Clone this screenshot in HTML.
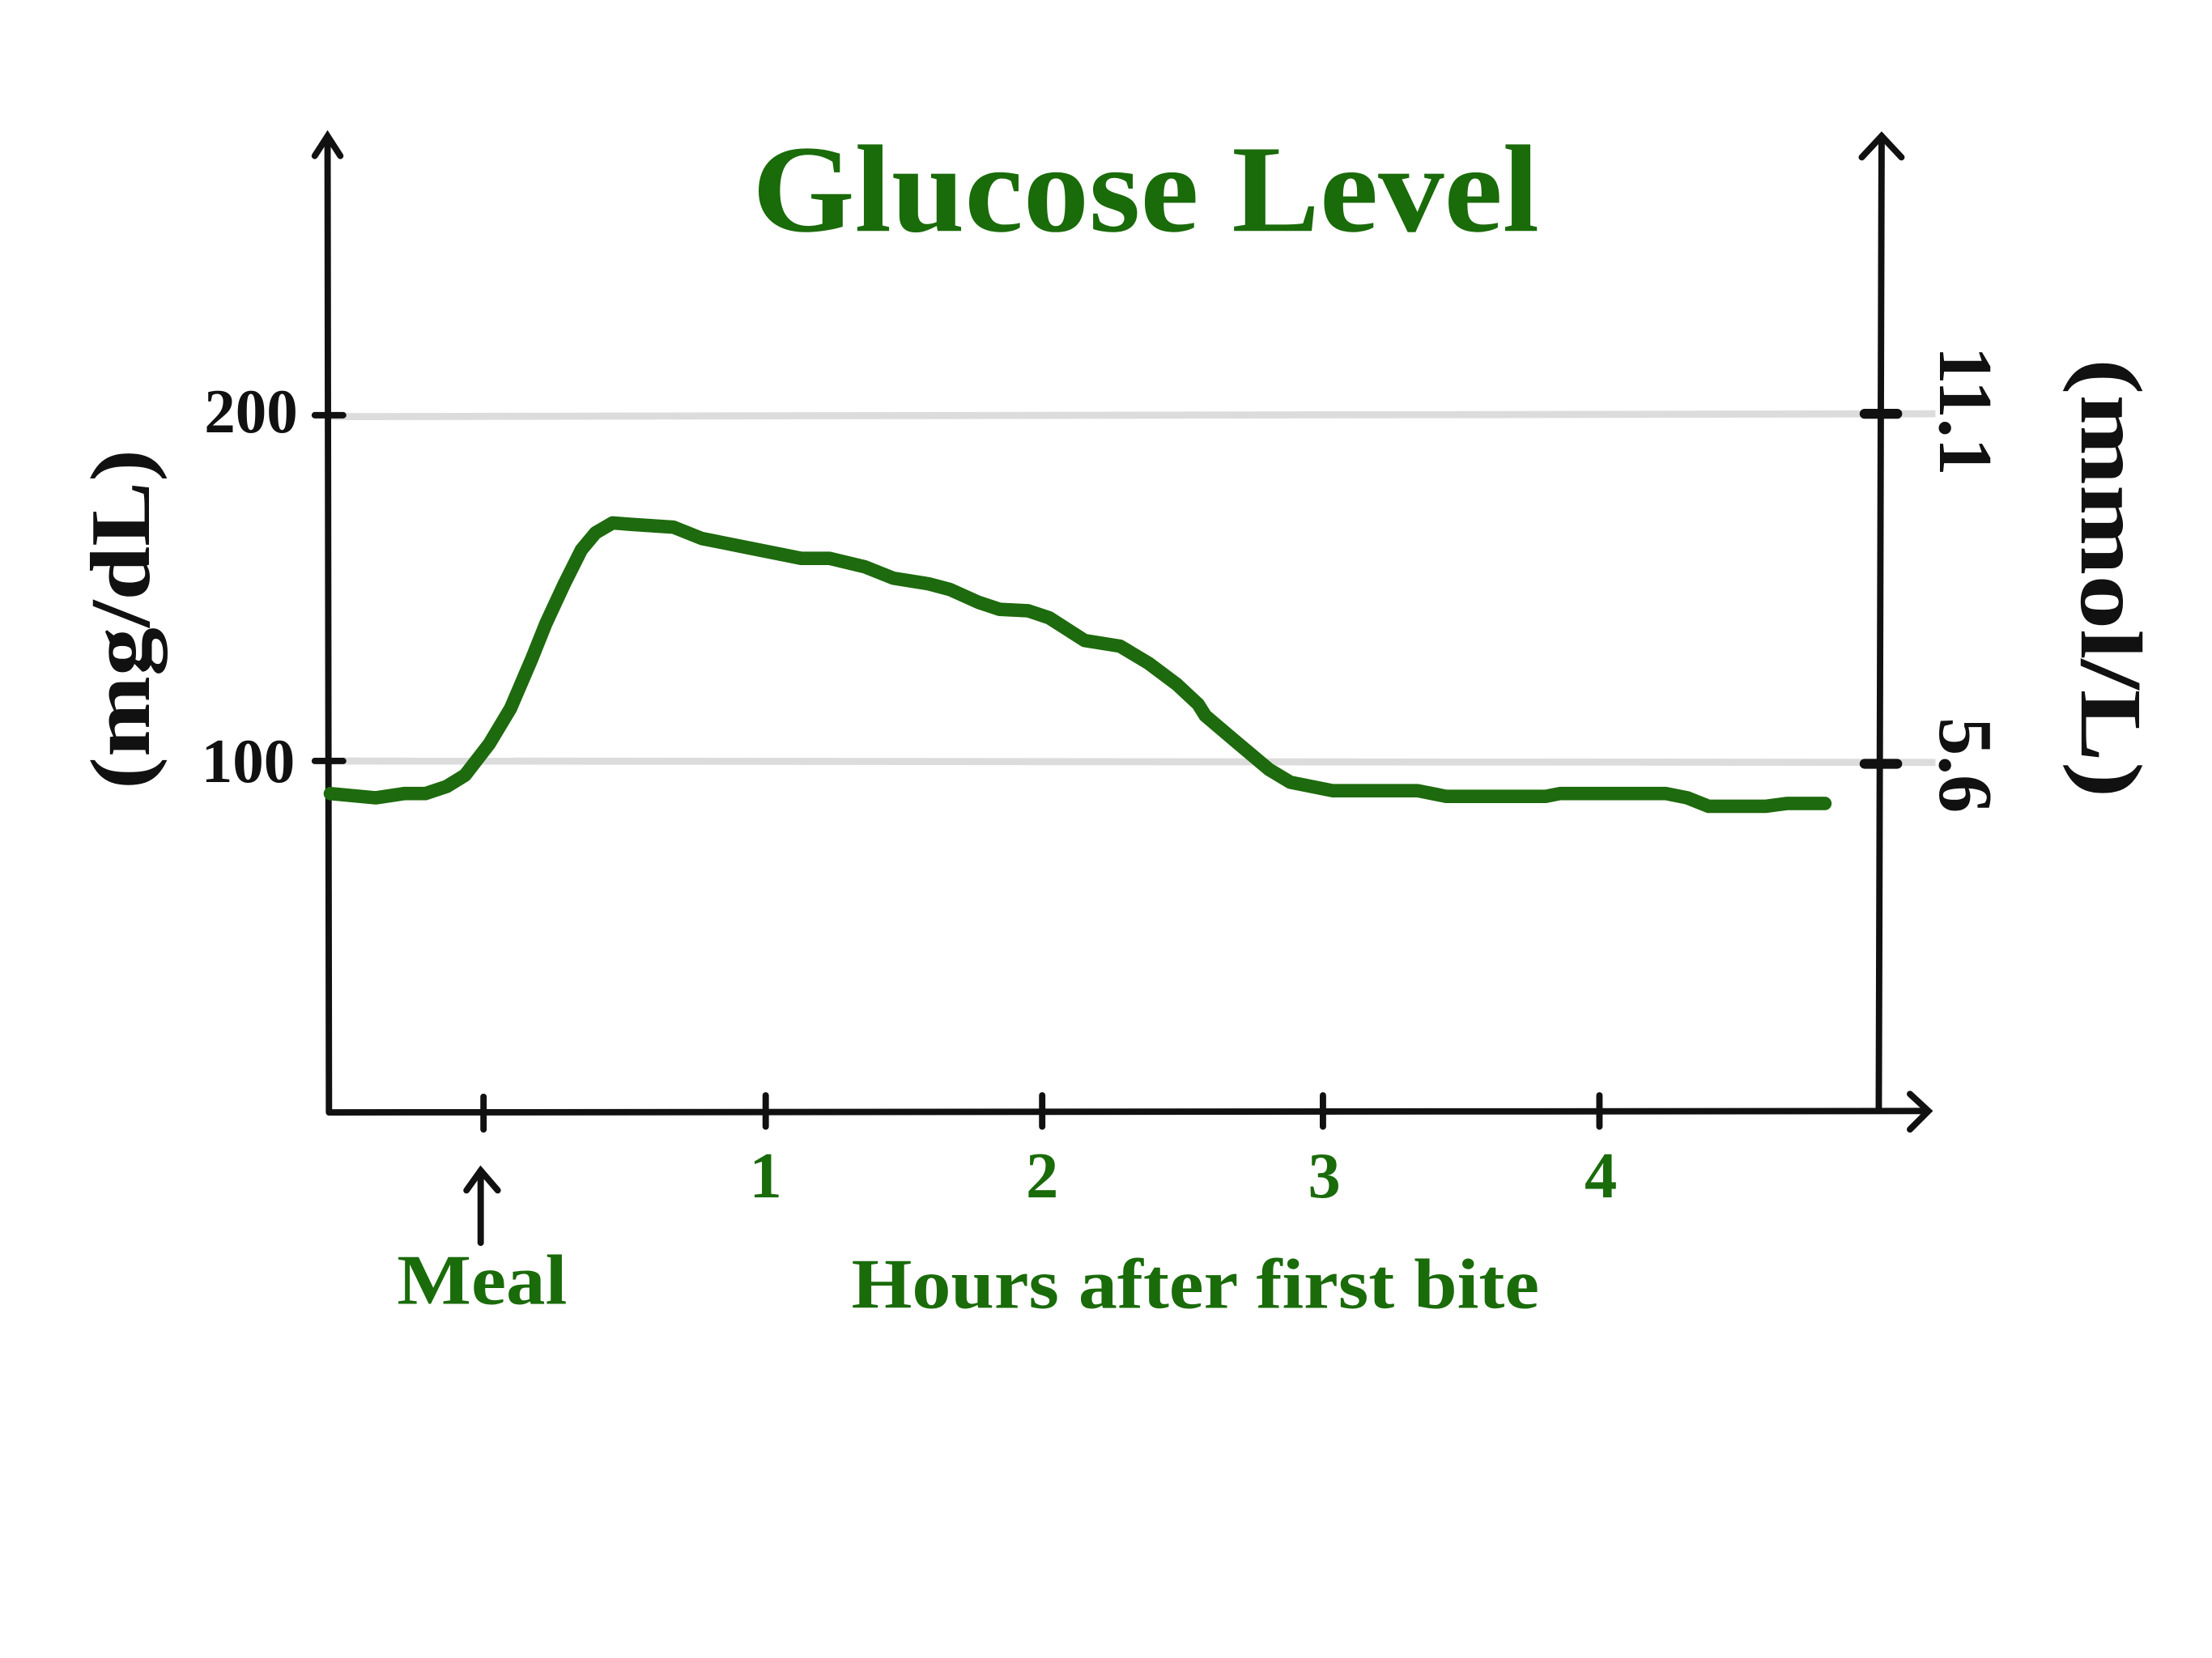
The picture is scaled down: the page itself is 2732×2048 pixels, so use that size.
<!DOCTYPE html>
<html><head><meta charset="utf-8"><style>
html,body{margin:0;padding:0;background:#fff;}
svg{display:block;}
text{font-family:"Liberation Serif",serif;font-weight:bold;}
</style></head><body>
<svg width="2732" height="2048" viewBox="0 0 1560 1170" preserveAspectRatio="none" xmlns="http://www.w3.org/2000/svg">
<rect width="1560" height="1170" fill="#fff"/>
<line x1="231" y1="294" x2="1365" y2="292" stroke="#dcdcdc" stroke-width="5"/>
<line x1="231" y1="537" x2="1365" y2="538" stroke="#dcdcdc" stroke-width="5"/>
<g stroke="#111" stroke-width="4.5" fill="none" stroke-linecap="round">
<path d="M231 97 L232 785"/><path d="M222 110 L231 96 L240 110"/>
<path d="M1327 96 L1325 782"/><path d="M1313 111 L1327 96 L1341 111"/>
<path d="M233 785 L1358 784"/><path d="M1347 772 L1360 784 L1347 797"/>
<path d="M341 774 L341 797"/><path d="M540 773 L540 795"/><path d="M735 773 L735 795"/><path d="M933 773 L933 795"/><path d="M1128 773 L1128 795"/>
<path d="M222 293 L242 293"/><path d="M222 537 L242 537"/>
<path d="M1315 292 L1338 292" stroke-width="7"/><path d="M1315 539 L1338 539" stroke-width="7"/>
<path d="M339 877 L339 826"/><path d="M329 840 L339 826 L351 840"/>
</g>
<path d="M233 560 L265 563 L285 560 L300 560 L315 555 L328 547 L345 525 L360 500 L375 465 L385 440 L398 412 L410 388 L420 376 L432 369 L445 370 L475 372 L495 380 L520 385 L545 390 L565 394 L585 394 L610 400 L630 408 L655 412 L670 416 L690 425 L705 430 L725 431 L740 436 L765 452 L790 456 L810 468 L830 483 L845 497 L850 505 L870 522 L895 543 L910 552 L940 558 L1000 558 L1020 562 L1090 562 L1100 560 L1175 560 L1190 563 L1205 569 L1245 569 L1260 567 L1287 567" stroke="#1e6a0e" stroke-width="9.5" fill="none" stroke-linecap="round" stroke-linejoin="round"/>
<text x="808" y="163" font-size="88" fill="#1a6b0a" text-anchor="middle" textLength="555" lengthAdjust="spacingAndGlyphs">Glucose Level</text>
<text x="210" y="305" font-size="44" fill="#111" text-anchor="end">200</text>
<text x="208" y="552" font-size="44" fill="#111" text-anchor="end">100</text>
<text transform="translate(105,437) rotate(-90)" font-size="60" fill="#111" text-anchor="middle" textLength="240" lengthAdjust="spacingAndGlyphs">(mg/dL)</text>
<text transform="translate(1468,408) rotate(90)" font-size="62" fill="#111" text-anchor="middle" textLength="310" lengthAdjust="spacingAndGlyphs">(mmol/L)</text>
<text transform="translate(1368,290) rotate(90)" font-size="54" fill="#111" text-anchor="middle">11.1</text>
<text transform="translate(1368,540) rotate(90)" font-size="54" fill="#111" text-anchor="middle">5.6</text>
<g fill="#1a6b0a" font-size="46" text-anchor="middle">
<text x="540" y="845">1</text><text x="735" y="845">2</text><text x="934" y="845">3</text><text x="1129" y="845">4</text>
<text x="340" y="920" font-size="50" textLength="120" lengthAdjust="spacingAndGlyphs">Meal</text>
<text x="843" y="923" font-size="50" textLength="485" lengthAdjust="spacingAndGlyphs">Hours after first bite</text>
</g>
</svg>
</body></html>
